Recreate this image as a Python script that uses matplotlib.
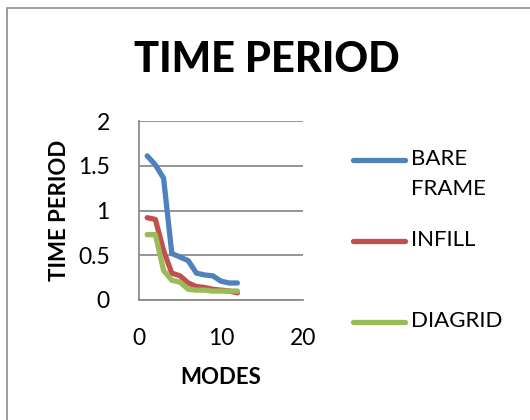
import matplotlib
matplotlib.use("Agg")
import matplotlib.pyplot as plt
from matplotlib.lines import Line2D
from matplotlib.patches import Rectangle

plt.rcParams['font.family'] = ['Lato', 'DejaVu Sans']

modes = [1, 2, 3, 4, 5, 6, 7, 8, 9, 10, 11, 12]
bare_frame = [1.61, 1.51, 1.36, 0.52, 0.48, 0.44, 0.30, 0.28, 0.27, 0.21, 0.19, 0.19]
infill = [0.92, 0.90, 0.55, 0.30, 0.27, 0.19, 0.15, 0.14, 0.12, 0.11, 0.10, 0.08]
diagrid = [0.73, 0.73, 0.33, 0.22, 0.20, 0.12, 0.11, 0.11, 0.10, 0.10, 0.10, 0.10]

labels = ["BARE\nFRAME", "INFILL", "DIAGRID"]
colors = ["#4F81BD", "#C0504D", "#9BBB59"]

fig = plt.figure(figsize=(5.3, 4.2), dpi=100)
ax = fig.add_axes([139/530, 1 - 300/420, 164/530, 179/420])

for ys, c in zip([bare_frame, infill, diagrid], colors):
    ax.plot(modes, ys, color=c, lw=3.8, solid_capstyle='round', solid_joinstyle='round')

ax.set_xlim(0, 20)
ax.set_ylim(0, 2)
ax.set_xticks([0, 10, 20])
ax.set_yticks([0, 0.5, 1, 1.5, 2])
ax.set_yticklabels(["0", "0.5", "1", "1.5", "2"])
ax.grid(axis='y', color='#8c8c8c', lw=1.3)
ax.set_axisbelow(True)
for s in ['top', 'right']:
    ax.spines[s].set_visible(False)
for s in ['left', 'bottom']:
    ax.spines[s].set_color('#8c8c8c')
    ax.spines[s].set_linewidth(1.3)
ax.tick_params(axis='y', length=0, labelsize=16.5, pad=21)
ax.tick_params(axis='x', length=0, labelsize=16.5, pad=20)

ax.set_xlabel("MODES", fontsize=16, fontweight='bold', labelpad=13)
ax.set_ylabel("TIME PERIOD", fontsize=16, fontweight='bold', labelpad=6)
fig.text(267/530, 1 - 60/420, "TIME PERIOD", fontsize=30, fontweight='black',
         ha='center', va='center')

# legend drawn by hand so the two-line label sits like the original
leg_y = [160, 241, 322]
for lab, c, y in zip(labels, colors, leg_y):
    fy = 1 - y / 420
    fig.add_artist(Line2D([353/530, 405/530], [fy, fy], color=c, lw=3.8,
                          solid_capstyle='round', transform=fig.transFigure))
    fig.text(411/530, fy + 11/420, lab, fontsize=16, ha='left', va='top',
             linespacing=1.65)

fig.add_artist(Rectangle((7/530, -0.1), 1.2, 1 - 8/420 + 0.1, fill=False,
                         edgecolor='#8c8c8c', lw=1.2, transform=fig.transFigure))

fig.savefig("out.png", dpi=100)
